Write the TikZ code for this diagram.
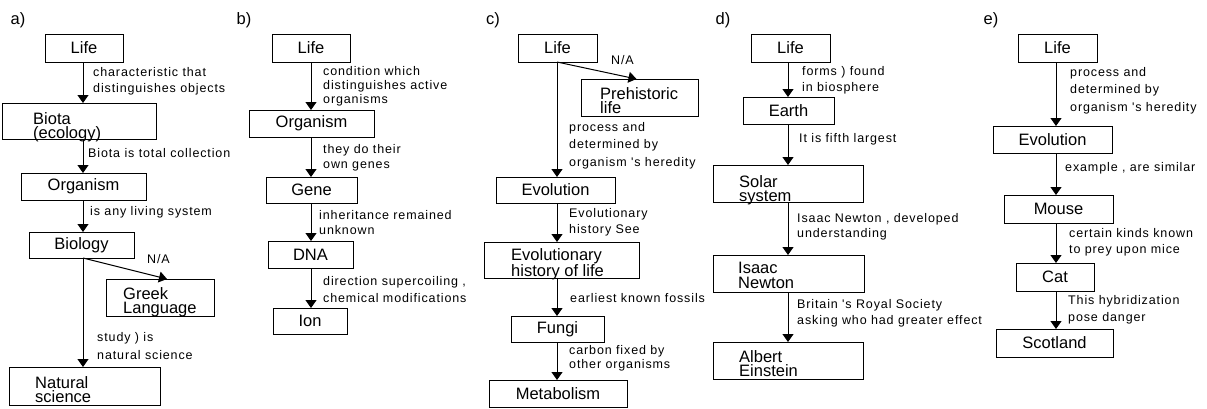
\documentclass[tikz,border=0pt]{standalone}
\usepackage{fontspec}
\setmainfont{Liberation Sans}
\newfontfamily\lblfamily[LetterSpace=7]{Liberation Sans}
\newcommand\boxfnt{\fontsize{16.5}{14.5}\selectfont}
\newcommand\lblfnt[1]{\lblfamily\fontsize{12.5}{#1}\selectfont}
\usetikzlibrary{arrows.meta}

\begin{document}
\begin{tikzpicture}
[
x=1pt, y=-1pt,
flowbox/.style={rectangle, draw, line width=1pt, inner sep=0, outer sep=0, font=\boxfnt},
boxtext/.style={anchor=north west, align=left, inner sep=0, font=\boxfnt},
ttl/.style={inner sep=0, font=\boxfnt},
lbl/.style={anchor=west, align=left, inner sep=0, font=\lblfnt{#1}},
lbl/.default=16,
arr/.style={-{Triangle[width=11pt,length=8pt]}, line width=1pt}
]
\useasboundingbox (0,0) rectangle (1207,408);

% a)
\node[ttl] (a-ttl) at (18,20) {a)};
\coordinate (a-ax) at (83,0);
\node[flowbox, minimum width=78, minimum height=28] (a-life) at (84,48) {Life};
\node[flowbox, minimum width=154, minimum height=36] (a-biota) at (79,121) {};
\node[boxtext] (a-biota-t) at (33,112) {Biota\\(ecology)};
\node[flowbox, minimum width=125, minimum height=27] (a-org) at (83.5,186.5) {Organism};
\node[flowbox, minimum width=105, minimum height=26] (a-bio) at (81.5,245) {Biology};
\node[flowbox, minimum width=108, minimum height=37] (a-greek) at (160,297.5) {};
\node[boxtext] (a-greek-t) at (123,287) {Greek\\Language};
\node[flowbox, minimum width=151, minimum height=38] (a-nat) at (84.5,386) {};
\node[boxtext] (a-nat-t) at (35,376) {Natural\\science};
\node[lbl] (a-l1) at (93,81) {characteristic that\\distinguishes objects};
\node[lbl] (a-l2) at (88,153) {Biota is total collection};
\node[lbl] (a-l3) at (90,212) {is any living system};
\node[lbl] (a-na) at (147,259) {N/A};
\node[lbl=18] (a-l4) at (97,346) {study ) is\\natural science};
\draw[arr] (a-life.south -| a-ax) -- (a-biota.north -| a-ax);
\draw[arr] (a-biota.south -| a-ax) -- (a-org.north -| a-ax);
\draw[arr] (a-org.south -| a-ax) -- (a-bio.north -| a-ax);
\draw[arr] (a-bio.south -| a-ax) -- ([xshift=7pt]a-greek.north);
\draw[arr] (a-bio.south -| a-ax) -- (a-nat.north -| a-ax);

% b)
\node[ttl] (b-ttl) at (244,20) {b)};
\coordinate (b-ax) at (311,0);
\node[flowbox, minimum width=78, minimum height=28] (b-life) at (311,48) {Life};
\node[flowbox, minimum width=125, minimum height=27] (b-org) at (311.5,123.5) {Organism};
\node[flowbox, minimum width=91, minimum height=26] (b-gene) at (311.5,190) {Gene};
\node[flowbox, minimum width=85, minimum height=27] (b-dna) at (310.5,254.5) {DNA};
\node[flowbox, minimum width=74, minimum height=26] (b-ion) at (310,321) {Ion};
\node[lbl=14] (b-l1) at (323,86) {condition which\\distinguishes active\\organisms};
\node[lbl=15] (b-l2) at (323,157.5) {they do their\\own genes};
\node[lbl=15] (b-l3) at (319,222.5) {inheritance remained\\unknown};
\node[lbl=17] (b-l4) at (323,289.5) {direction supercoiling ,\\chemical modifications};
\draw[arr] (b-life.south -| b-ax) -- (b-org.north -| b-ax);
\draw[arr] (b-org.south -| b-ax) -- (b-gene.north -| b-ax);
\draw[arr] (b-gene.south -| b-ax) -- (b-dna.north -| b-ax);
\draw[arr] (b-dna.south -| b-ax) -- (b-ion.north -| b-ax);

% c)
\node[ttl] (c-ttl) at (493,20) {c)};
\coordinate (c-ax) at (557,0);
\node[flowbox, minimum width=79, minimum height=28] (c-life) at (557.5,48) {Life};
\node[flowbox, minimum width=117, minimum height=37] (c-pre) at (639.5,97.5) {};
\node[boxtext] (c-pre-t) at (600,87) {Prehistoric\\life};
\node[flowbox, minimum width=119, minimum height=26] (c-evo) at (555.5,190) {Evolution};
\node[flowbox, minimum width=155, minimum height=36] (c-hist) at (561.5,260) {};
\node[boxtext] (c-hist-t) at (511,248) {Evolutionary\\history of life};
\node[flowbox, minimum width=93, minimum height=26] (c-fungi) at (557.5,329) {Fungi};
\node[flowbox, minimum width=138, minimum height=27] (c-meta) at (558,393.5) {Metabolism};
\node[lbl] (c-na) at (611,60) {N/A};
\node[lbl=17.5] (c-l1) at (569,145.5) {process and\\determined by\\organism 's heredity};
\node[lbl=16] (c-l2) at (569,222) {Evolutionary\\history See};
\node[lbl] (c-l3) at (570,298) {earliest known fossils};
\node[lbl=14] (c-l4) at (569,358.5) {carbon fixed by\\other organisms};
\draw[arr] (c-life.south -| c-ax) -- ([xshift=-3pt]c-pre.north);
\draw[arr] (c-life.south -| c-ax) -- (c-evo.north -| c-ax);
\draw[arr] (c-evo.south -| c-ax) -- (c-hist.north -| c-ax);
\draw[arr] (c-hist.south -| c-ax) -- (c-fungi.north -| c-ax);
\draw[arr] (c-fungi.south -| c-ax) -- (c-meta.north -| c-ax);

% d)
\node[ttl] (d-ttl) at (723,20) {d)};
\coordinate (d-ax) at (788,0);
\node[flowbox, minimum width=79, minimum height=28] (d-life) at (790.5,48) {Life};
\node[flowbox, minimum width=91, minimum height=27] (d-earth) at (788.5,110.5) {Earth};
\node[flowbox, minimum width=150, minimum height=37] (d-solar) at (788,183.5) {};
\node[boxtext] (d-solar-t) at (739,175) {Solar\\system};
\node[flowbox, minimum width=151, minimum height=37] (d-isaac) at (788.5,273.5) {};
\node[boxtext] (d-isaac-t) at (738,262) {Isaac\\Newton};
\node[flowbox, minimum width=150, minimum height=37] (d-einst) at (788,360.5) {};
\node[boxtext] (d-einst-t) at (739,350) {Albert\\Einstein};
\node[lbl] (d-l1) at (802,80) {forms ) found\\in biosphere};
\node[lbl] (d-l2) at (799,139) {It is fifth largest};
\node[lbl=15] (d-l3) at (797,226.5) {Isaac Newton , developed\\understanding};
\node[lbl] (d-l4) at (797,313) {Britain 's Royal Society\\asking who had greater effect};
\draw[arr] (d-life.south -| d-ax) -- (d-earth.north -| d-ax);
\draw[arr] (d-earth.south -| d-ax) -- (d-solar.north -| d-ax);
\draw[arr] (d-solar.south -| d-ax) -- (d-isaac.north -| d-ax);
\draw[arr] (d-isaac.south -| d-ax) -- (d-einst.north -| d-ax);

% e)
\node[ttl] (e-ttl) at (991,20) {e)};
\coordinate (e-ax) at (1056,0);
\node[flowbox, minimum width=79, minimum height=28] (e-life) at (1057.5,48) {Life};
\node[flowbox, minimum width=119, minimum height=27] (e-evo) at (1052.5,139.5) {Evolution};
\node[flowbox, minimum width=109, minimum height=28] (e-mouse) at (1058.5,209) {Mouse};
\node[flowbox, minimum width=78, minimum height=28] (e-cat) at (1055,277) {Cat};
\node[flowbox, minimum width=117, minimum height=28] (e-scot) at (1054.5,343) {Scotland};
\node[lbl=17.5] (e-l1) at (1070,90.5) {process and\\determined by\\organism 's heredity};
\node[lbl] (e-l2) at (1065,168) {example , are similar};
\node[lbl=16.5] (e-l3) at (1069,242.5) {certain kinds known\\to prey upon mice};
\node[lbl=17] (e-l4) at (1068,309.5) {This hybridization\\pose danger};
\draw[arr] (e-life.south -| e-ax) -- (e-evo.north -| e-ax);
\draw[arr] (e-evo.south -| e-ax) -- (e-mouse.north -| e-ax);
\draw[arr] (e-mouse.south -| e-ax) -- (e-cat.north -| e-ax);
\draw[arr] (e-cat.south -| e-ax) -- (e-scot.north -| e-ax);
\end{tikzpicture}
\end{document}
